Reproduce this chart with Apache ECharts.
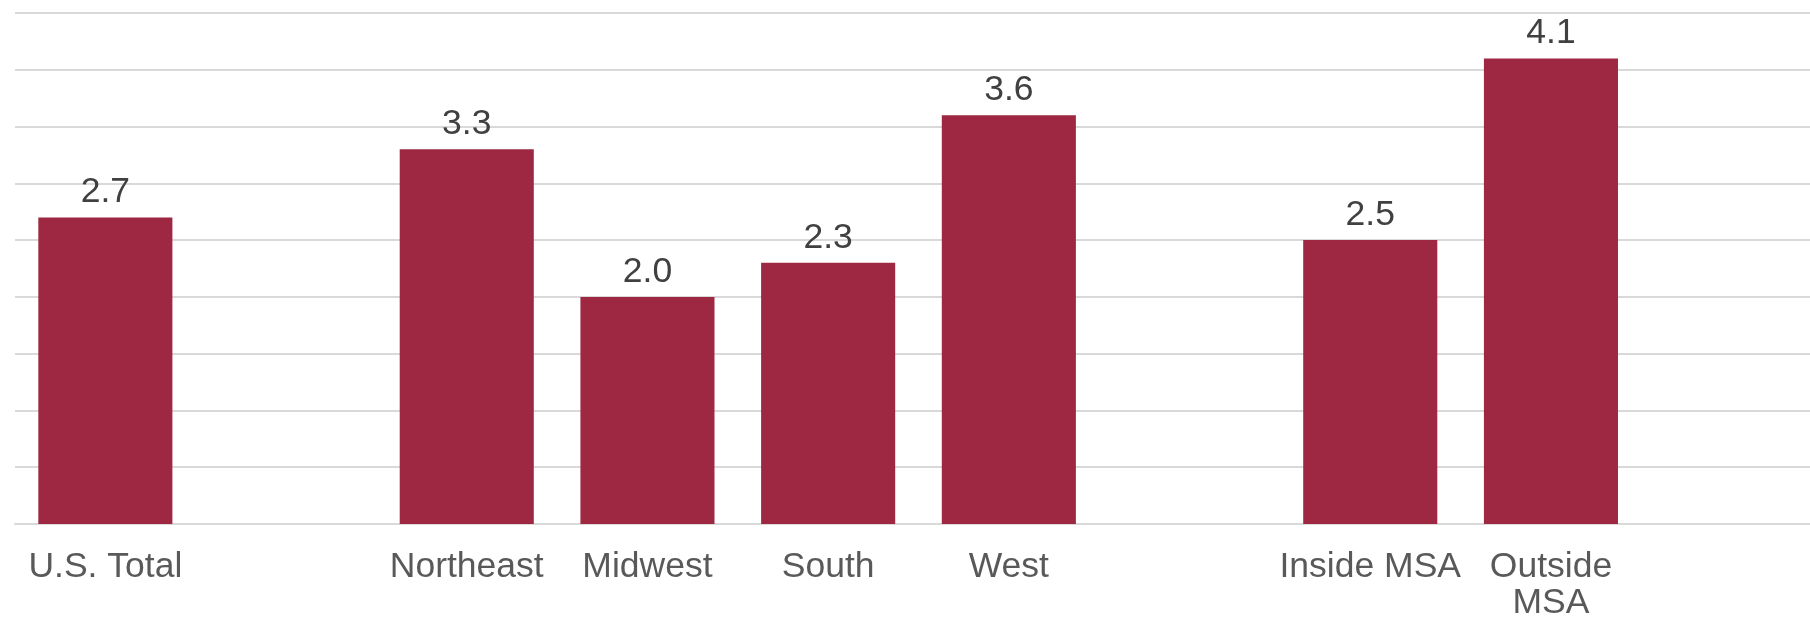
<!DOCTYPE html>
<html>
<head>
<meta charset="utf-8">
<script src="https://cdn.jsdelivr.net/npm/echarts@6/dist/echarts.min.js"></script>
<style>
html,body{margin:0;padding:0;background:#fff;}
#chart{width:1810px;height:621px;}
</style>
</head>
<body>
<div id="chart"></div>
<script>
const categories = ['U.S. Total', '', 'Northeast', 'Midwest', 'South', 'West', '', 'Inside MSA', 'Outside MSA', ''];
const values = [2.7, null, 3.3, 2.0, 2.3, 3.6, null, 2.5, 4.1, null];
const yMin = 0, yMax = 4.5, yInterval = 0.5;

const chart = echarts.init(document.getElementById('chart'), null, {renderer: 'canvas'});
chart.setOption({
  animation: false,
  grid: {left: 15, width: 1807, top: 13, bottom: 97, containLabel: false, outerBoundsMode: 'none'},
  xAxis: {
    type: 'category',
    data: categories,
    axisTick: {show: false},
    axisLine: {lineStyle: {color: '#d9d9d9', width: 2}},
    axisLabel: {
      interval: 0,
      color: '#595959',
      fontFamily: 'Liberation Sans, Arial, sans-serif',
      fontSize: 35.5,
      lineHeight: 36,
      margin: 25,
      formatter: v => v === 'Outside MSA' ? 'Outside\nMSA' : v
    }
  },
  yAxis: {
    type: 'value',
    min: yMin, max: yMax, interval: yInterval,
    axisLabel: {show: false},
    axisLine: {show: false},
    axisTick: {show: false},
    splitLine: {lineStyle: {color: '#d9d9d9', width: 2}}
  },
  series: [{
    type: 'bar',
    data: values,
    barWidth: '74.2%',
    itemStyle: {color: '#9e2842'},
    label: {
      show: true,
      position: 'top',
      distance: 7,
      color: '#404040',
      fontFamily: 'Liberation Sans, Arial, sans-serif',
      fontSize: 35.5,
      formatter: p => p.value == null ? '' : p.value.toFixed(1)
    }
  }]
});
</script>
</body>
</html>
